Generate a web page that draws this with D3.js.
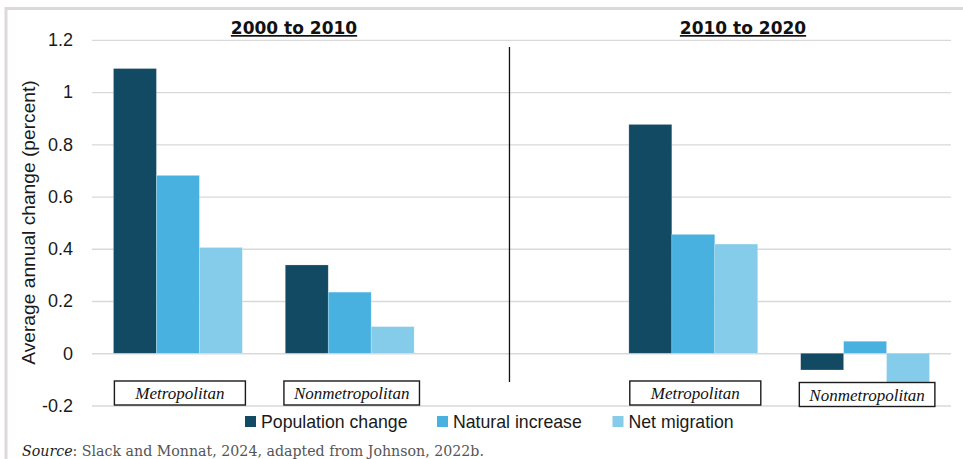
<!DOCTYPE html>
<html>
<head>
<meta charset="utf-8">
<script src="https://cdn.jsdelivr.net/npm/d3@7"></script>
<style>
  html, body { margin: 0; padding: 0; background: #fff; }
  svg { display: block; }
</style>
</head>
<body>
<svg id="chart" width="963" height="459"></svg>
<script>
// ---- data ----
const periods = ["2000 to 2010", "2010 to 2020"];
const areas = ["Metropolitan", "Nonmetropolitan"];
const categories = ["Metro 2000-2010", "Nonmetro 2000-2010", "", "Metro 2010-2020", "Nonmetro 2010-2020"];
const categoryLabels = ["Metropolitan", "Nonmetropolitan", "", "Metropolitan", "Nonmetropolitan"];
const series = ["Population change", "Natural increase", "Net migration"];
const populationChange = [1.09, 0.338, 0.876, -0.064];
const naturalIncrease = [0.681, 0.234, 0.455, 0.046];
const netMigration = [0.405, 0.102, 0.418, -0.11];
const yTicks = [-0.2, 0, 0.2, 0.4, 0.6, 0.8, 1, 1.2];
const yTickLabels = ["-0.2", "0", "0.2", "0.4", "0.6", "0.8", "1", "1.2"];
const colors = ["#134a63", "#48b1e0", "#85cbea"];

const dataCats = categories.filter(c => c !== "");
const values = [populationChange, naturalIncrease, netMigration];
const table = [];
dataCats.forEach((c, i) => series.forEach((s, j) => table.push({cat: c, series: s, value: values[j][i]})));

const svg = d3.select("#chart");

// frame
svg.append("path").attr("d", "M6,459 V8.5 H963").attr("fill", "none")
  .attr("stroke", "#ddd9d9").attr("stroke-width", 3);

// scales
const x0 = d3.scaleBand().domain(categories).range([92, 951]).paddingInner(0).paddingOuter(0);
const x1 = d3.scaleBand().domain(series).range([0, x0.bandwidth()]).paddingInner(0).paddingOuter(0.5);
const y = d3.scaleLinear().domain([-0.2, 1.2]).range([405.5, 39.8]);
const color = d3.scaleOrdinal().domain(series).range(colors);

// gridlines
const grid = d3.axisLeft(y).tickValues(yTicks).tickSize(-(951 - 92)).tickFormat("");
svg.append("g").attr("transform", "translate(92,0)").call(grid)
  .call(g => g.select(".domain").remove())
  .call(g => g.selectAll("line").attr("stroke", "#d9d9d9").attr("stroke-width", 1.3));

// y axis labels
const yAxis = d3.axisLeft(y).tickValues(yTicks).tickSize(0).tickPadding(19)
  .tickFormat((d, i) => yTickLabels[i]);
svg.append("g").attr("transform", "translate(92,0)").call(yAxis)
  .call(g => g.select(".domain").remove())
  .call(g => g.selectAll("text").attr("font-family", "Liberation Sans, Arial, sans-serif")
     .attr("font-size", 18).attr("fill", "#1a1a1a"));

// y title
svg.append("text").attr("transform", "translate(35,222.5) rotate(-90)")
  .attr("text-anchor", "middle").attr("font-family", "Liberation Sans, Arial, sans-serif")
  .attr("font-size", 19.2).attr("fill", "#1a1a1a").text("Average annual change (percent)");

// bars
svg.append("g").selectAll("rect").data(table).join("rect")
  .attr("x", d => x0(d.cat) + x1(d.series))
  .attr("width", x1.bandwidth())
  .attr("y", d => y(Math.max(0, d.value)))
  .attr("height", d => Math.abs(y(d.value) - y(0)))
  .attr("fill", d => color(d.series))
  .attr("stroke", "#ffffff").attr("stroke-width", 0.6).attr("stroke-opacity", 0.35);

// divider line
const divX = x0(categories[2]) + x0.bandwidth() * 0.43;
svg.append("line").attr("x1", divX).attr("x2", divX).attr("y1", 47).attr("y2", 382)
  .attr("stroke", "#111").attr("stroke-width", 1.3);

// category label boxes
const boxTop = [381, 381, 0, 381, 382.5];
const catG = svg.append("g").selectAll("g")
  .data(categories.map((c, i) => ({c, label: categoryLabels[i], top: boxTop[i]})).filter(d => d.label !== ""))
  .join("g")
  .attr("transform", d => `translate(${x0(d.c) + x0.bandwidth() / 2 + 2},${d.top})`);
catG.append("text").attr("y", 18).attr("text-anchor", "middle")
  .attr("font-family", "Liberation Serif, Times New Roman, serif").attr("font-style", "italic")
  .attr("font-size", 17).attr("fill", "#111").text(d => d.label)
  .each(function(d) { d.w = Math.max(this.getComputedTextLength() + 20, 131); });
catG.insert("rect", "text")
  .attr("x", d => -d.w / 2).attr("width", d => d.w)
  .attr("y", 0).attr("height", 24)
  .attr("fill", "#fff").attr("stroke", "#1a1a1a").attr("stroke-width", 1.4);

// period titles
const titleX = [294, 743];
svg.append("g").selectAll("text").data(periods).join("text")
  .attr("x", (d, i) => titleX[i]).attr("y", 34).attr("text-anchor", "middle")
  .attr("font-family", "DejaVu Sans, sans-serif").attr("font-weight", "bold")
  .attr("font-size", 17).attr("text-decoration", "underline").attr("fill", "#111")
  .text(d => d);

// legend
const legX = [245, 437, 612.5];
const leg = svg.append("g").selectAll("g").data(series).join("g")
  .attr("transform", (d, i) => `translate(${legX[i]},416)`);
leg.append("rect").attr("width", 11).attr("height", 11).attr("fill", d => color(d));
leg.append("text").attr("x", 16).attr("y", 12).attr("font-family", "Liberation Sans, Arial, sans-serif")
  .attr("font-size", 17.7).attr("fill", "#1a1a1a").text(d => d);

// source
const src = svg.append("text").attr("x", 22).attr("y", 456)
  .attr("font-family", "DejaVu Serif, serif").attr("font-size", 14.2).attr("fill", "#555");
src.append("tspan").attr("font-style", "italic").attr("fill", "#222").text("Source");
src.append("tspan").text(": Slack and Monnat, 2024, adapted from Johnson, 2022b.");
</script>
</body>
</html>
